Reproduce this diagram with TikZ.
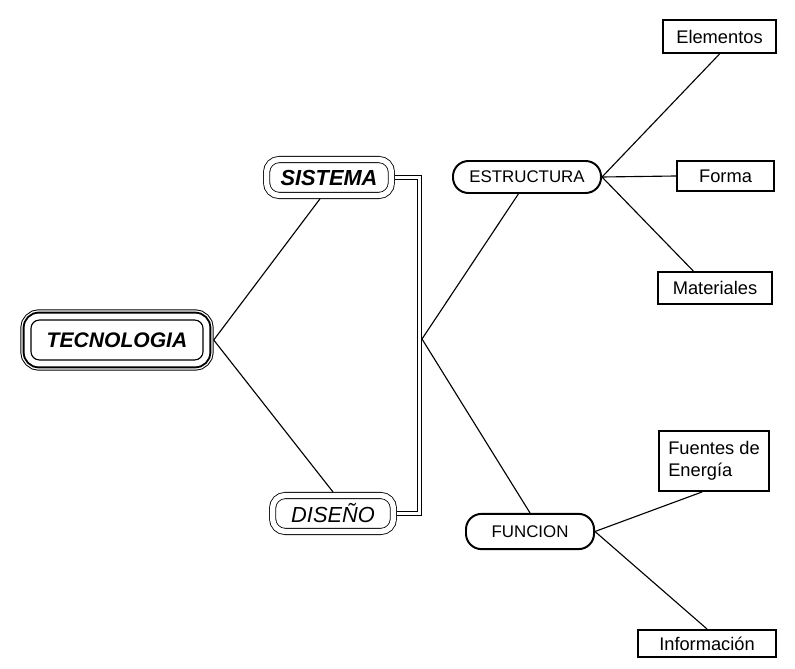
\documentclass[tikz,border=0pt]{standalone}
\usepackage{fontspec}
\setmainfont{Liberation Sans}
\begin{document}
\begin{tikzpicture}[x=0.025cm, y=-0.025cm,
  tecbox/.style={draw, fill=white, line width=0.8pt, rounded corners=6pt,
    minimum width=4.3cm, minimum height=1cm, outer sep=7.6pt,
    font=\fontsize{15}{18}\selectfont\bfseries\itshape,
    preaction={draw, line width=15.2pt},
    preaction={draw, white, line width=13.8pt},
    preaction={draw, line width=12pt},
    preaction={draw, white, line width=9.2pt}},
  sisbox/.style={draw, double, double distance=3.8pt, line width=0.6pt,
    rounded corners=9pt, outer sep=2.5pt},
  estbox/.style={draw, line width=1.4pt, rounded corners=11pt,
    font=\fontsize{12}{14}\selectfont},
  leafbox/.style={draw, line width=1.6pt, font=\fontsize{13}{15.6}\selectfont},
  link/.style={line width=0.8pt},
  bar/.style={double, double distance=2.8pt, line width=0.6pt}]
  \fill[white] (0,0) rectangle (795,669);
  \useasboundingbox (0,0) rectangle (795,669);
  % left part
  \node[tecbox] (tec) at (117,340) {TECNOLOGIA};
  \node[sisbox, minimum width=3.12cm, minimum height=0.9cm,
    font=\fontsize{15.5}{18}\selectfont\bfseries\itshape] (sis) at (329,177.5) {SISTEMA};
  \node[sisbox, minimum width=3.02cm, minimum height=0.9cm,
    font=\fontsize{15.5}{18}\selectfont\itshape] (dis) at (333,513.5) {DISEÑO};
  % middle
  \node[estbox, minimum width=3.7cm, minimum height=0.8cm] (est) at (527,177) {ESTRUCTURA};
  \node[estbox, minimum width=3.2cm, minimum height=0.88cm] (fun) at (530,531.5) {FUNCION};
  % right boxes
  \node[leafbox, minimum width=2.82cm, minimum height=0.82cm] (elem) at (719.5,36.5) {Elementos};
  \node[leafbox, minimum width=2.42cm, minimum height=0.74cm] (forma) at (725.5,176) {Forma};
  \node[leafbox, minimum width=2.84cm, minimum height=0.79cm] (mat) at (715,288) {Materiales};
  \node[leafbox, minimum width=2.74cm, minimum height=1.49cm, align=left] (fuen) at (714,461) {Fuentes de\\Energía};
  \node[leafbox, minimum width=3.44cm, minimum height=0.67cm] (info) at (707,643.5) {Información};
  % connectors
  \coordinate (barmid) at (419.5,339);
  \coordinate (hub) at (422,339);
  \draw[link] (tec.east) -- (sis.247);
  \draw[link] (tec.east) -- (dis.north);
  \draw[bar] (sis.east) -| (barmid) |- (dis.east);
  \draw[link] (hub) -- (est.243);
  \draw[link] (hub) -- (fun.north);
  \draw[link] (est.east) -- (elem.south);
  \draw[link] (est.east) -- (forma.west);
  \draw[link] (est.east) -- (mat.142);
  \draw[link] (fun.east) -- (fuen.249);
  \draw[link] (fun.east) -- (info.north);
\end{tikzpicture}
\end{document}
